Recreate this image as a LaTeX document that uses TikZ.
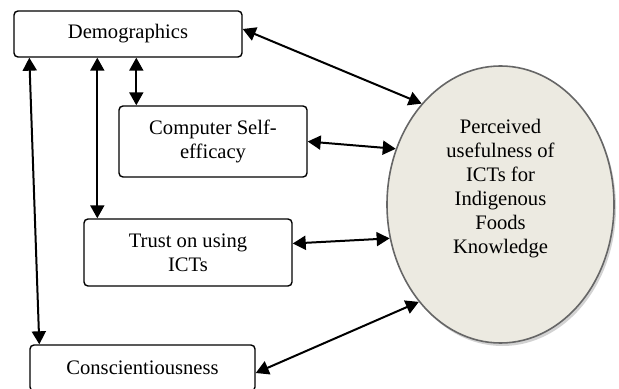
\documentclass[tikz,border=0pt]{standalone}
\usepackage{fontspec}
\setmainfont{Liberation Serif}
\usetikzlibrary{arrows.meta,shapes.geometric,shadows}
\definecolor{ellfill}{HTML}{ECEAE1}
\definecolor{ellline}{HTML}{666666}
\tikzset{
  box/.style={draw,rounded corners=2pt,line width=0.7pt,align=center,inner sep=0pt},
  biarrow/.style={{Triangle[length=6.5pt,width=7pt]}-{Triangle[length=6.5pt,width=7pt]},line width=1pt}
}
\begin{document}
\begin{tikzpicture}[x=0.5pt,y=-0.5pt,font=\fontsize{10.3}{12}\selectfont]
\useasboundingbox (0,0) rectangle (619,389);

\node (dem) at (128,34) [box,minimum width=114pt,minimum height=23pt] {Demographics};
\node (cse) at (213,141.5) [box,minimum width=94pt,minimum height=35.5pt] {Computer Self-\\efficacy};
\node (tru) at (188,252.5) [box,minimum width=104pt,minimum height=33.5pt] {Trust on using\\ICTs};
\node (con) at (142.5,368) [box,minimum width=112.5pt,minimum height=23pt] {Conscientiousness};

\node (puse) at (500.5,204.5) [ellipse,draw=ellline,line width=0.8pt,fill=ellfill,minimum width=113.5pt,minimum height=138.5pt,
  drop shadow={shadow xshift=1pt,shadow yshift=-1.5pt,fill=gray!70}] {};
\node (pusetext) at ([yshift=8pt]puse.center) [align=center] {Perceived\\usefulness of\\ICTs for\\Indigenous\\Foods\\Knowledge};

\draw [biarrow] ([yshift=2.5pt]dem.east) -- (puse.128);
\draw [biarrow] (cse.east) -- (puse.152);
\draw [biarrow] ([yshift=4.5pt]tru.east) -- (puse.197);
\draw [biarrow] ([yshift=-2.5pt]con.east) -- (puse.230);

\draw [biarrow] ([xshift=61.5pt]dem.south west) -- ([xshift=9pt]cse.north west);
\draw [biarrow] ([xshift=42pt]dem.south west) -- ([xshift=7pt]tru.north west);
\draw [biarrow] ([xshift=8pt]dem.south west) -- ([xshift=5pt]con.north west);
\end{tikzpicture}
\end{document}
